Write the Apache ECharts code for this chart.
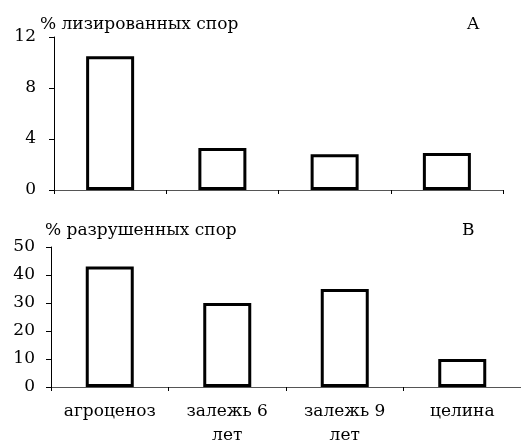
<!DOCTYPE html>
<html><head><meta charset="utf-8">
<script src="https://cdn.jsdelivr.net/npm/echarts@6/dist/echarts.min.js"></script>
<style>html,body{margin:0;padding:0;background:#fff}#c{width:521px;height:443px}</style>
</head><body><div id="c"></div>
<script>
const categories = ['агроценоз', 'залежь 6\nлет', 'залежь 9\nлет', 'целина'];
const lysedSpores = [10.5, 3.3, 2.8, 2.9];
const destroyedSpores = [43, 30, 35, 10];
const topTicks = [0, 4, 8, 12];
const bottomTicks = [0, 10, 20, 30, 40, 50];
const titleTop = '% лизированных спор';
const titleBottom = '% разрушенных спор';

const FONT = 'DejaVu Serif';
const txt = {fontFamily: FONT, fontSize: 17, color: '#000', fontWeight: 'normal'};
const chart = echarts.init(document.getElementById('c'));
const barStyle = {color: '#fff', borderColor: '#000', borderWidth: 3};
function yAxis(idx, ticks, margin) {
  return {
    type: 'value', gridIndex: idx, min: ticks[0], max: ticks[ticks.length - 1],
    interval: ticks[1] - ticks[0],
    axisLine: {show: true, lineStyle: {color: '#000', width: 1}},
    axisTick: {show: true, length: 5, lineStyle: {color: '#000'}},
    splitLine: {show: false},
    axisLabel: Object.assign({margin: margin}, txt)
  };
}
chart.setOption({
  animation: false,
  title: [
    {text: titleTop, left: 35, top: 11, textStyle: txt},
    {text: 'A', left: 462, top: 11, textStyle: txt},
    {text: titleBottom, left: 40, top: 217, textStyle: txt},
    {text: 'B', left: 457, top: 217, textStyle: txt}
  ],
  grid: [
    {left: 54, width: 449, top: 37, height: 153, outerBoundsMode: 'none', containLabel: false},
    {left: 51, width: 470, top: 247, height: 140, outerBoundsMode: 'none', containLabel: false}
  ],
  xAxis: [
    {type: 'category', gridIndex: 0, data: categories,
     axisLine: {lineStyle: {color: '#555', width: 1}},
     axisTick: {show: true, length: 4, lineStyle: {color: '#000'}},
     axisLabel: {show: false}},
    {type: 'category', gridIndex: 1, data: categories,
     axisLine: {lineStyle: {color: '#555', width: 1}},
     axisTick: {show: true, length: 4, lineStyle: {color: '#000'}},
     axisLabel: Object.assign({margin: 13, lineHeight: 24, interval: 0}, txt)}
  ],
  yAxis: [yAxis(0, topTicks, 18), yAxis(1, bottomTicks, 16)],
  series: [
    {type: 'bar', xAxisIndex: 0, yAxisIndex: 0, data: lysedSpores, barWidth: 48, itemStyle: barStyle},
    {type: 'bar', xAxisIndex: 1, yAxisIndex: 1, data: destroyedSpores, barWidth: 48, itemStyle: barStyle}
  ]
});
</script></body></html>
